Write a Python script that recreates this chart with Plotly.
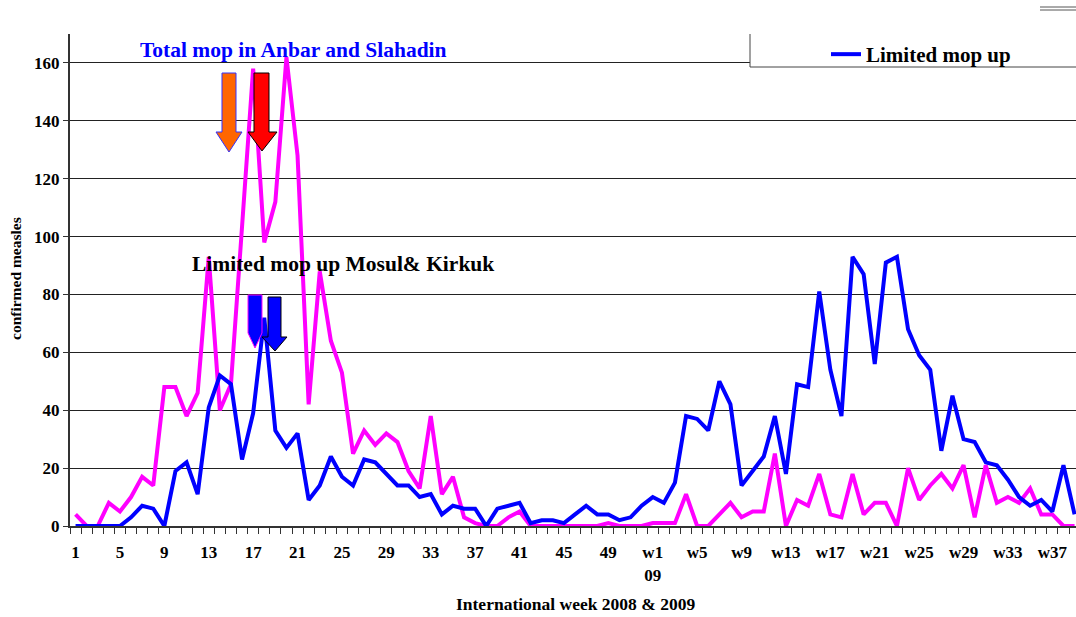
import plotly.graph_objects as go

# ---------------- data ----------------
categories = [str(w) for w in range(1, 53)] + [f"w{w}" for w in range(1, 40)]

total_mop = [4, 0, 0, 8, 5, 10, 17, 14, 48, 48, 38, 46, 93, 40, 49, 105, 158, 98, 112, 162,
             128, 42, 88, 64, 53, 25, 33, 28, 32, 29, 19, 13, 38, 11, 17, 3, 1, 0, 0, 3,
             5, 0, 0, 0, 0, 0, 0, 0, 1, 0, 0, 0, 1, 1, 1, 11, 0, 0, 4, 8,
             3, 5, 5, 25, 0, 9, 7, 18, 4, 3, 18, 4, 8, 8, 0, 20, 9, 14, 18, 13,
             21, 3, 21, 8, 10, 8, 13, 4, 4, 0, 0]

limited_mop = [0, 0, 0, 0, 0, 3, 7, 6, 0, 19, 22, 11, 41, 52, 49, 23, 39, 72, 33, 27,
               32, 9, 14, 24, 17, 14, 23, 22, 18, 14, 14, 10, 11, 4, 7, 6, 6, 0, 6, 7,
               8, 1, 2, 2, 1, 4, 7, 4, 4, 2, 3, 7, 10, 8, 15, 38, 37, 33, 50, 42,
               14, 19, 24, 38, 18, 49, 48, 81, 54, 38, 93, 87, 56, 91, 93, 68, 59, 54, 26, 45,
               30, 29, 22, 21, 16, 10, 7, 9, 5, 21, 4]

label_every = 4
y_ticks = [0, 20, 40, 60, 80, 100, 120, 140, 160]

# ---------------- layout constants ----------------
W, H = 1076, 617
ML, MR, MT, MB = 70, 0, 34, 91
PW, PH = W - ML - MR, H - MT - MB
STEP = 11.1  # px per week
x_pos = list(range(1, len(categories) + 1))
x_range = [0.5, 0.5 + PW / STEP]
y_range = [0, 170]

tickvals = x_pos[::label_every]
ticktext = []
for c in categories[::label_every]:
    ticktext.append(c + "<br>09" if c == "w1" else c)

SERIF = "Liberation Serif, Times New Roman, serif"


def px(xp, yp):
    """pixel -> paper coordinates"""
    return (xp - ML) / PW, (H - MB - yp) / PH


def path(points):
    pts = [px(a, b) for a, b in points]
    return "M " + " L ".join(f"{a:.5f},{b:.5f}" for a, b in pts) + " Z"


def pline(x0, y0, x1, y1, color="#444444", width=1):
    a0, b0 = px(x0, y0)
    a1, b1 = px(x1, y1)
    return dict(type="line", xref="paper", yref="paper", x0=a0, y0=b0, x1=a1, y1=b1,
                line=dict(color=color, width=width), layer="above")


fig = go.Figure()
fig.add_trace(go.Scatter(x=x_pos, y=total_mop, mode="lines", name="Total mop up",
                         line=dict(color="#FF00FF", width=4), showlegend=False,
                         text=categories))
fig.add_trace(go.Scatter(x=x_pos, y=limited_mop, mode="lines", name="Limited mop up",
                         line=dict(color="#0000FF", width=4), showlegend=True,
                         text=categories))

shapes = []
# legend box (partially cropped): white fill, left and bottom borders only
shapes.append(dict(type="rect", xref="paper", yref="paper",
                   x0=px(750, 0)[0], x1=1.05, y0=px(0, 67)[1], y1=px(0, 34)[1],
                   fillcolor="white", line=dict(width=0), layer="above"))
shapes.append(pline(750, 34, 750, 67))
shapes.append(pline(750, 67, 1080, 67))
# double line top right
shapes.append(pline(1040, 7, 1080, 7, "#555555"))
shapes.append(pline(1040, 10, 1080, 10, "#555555"))
# arrows
arrows = [
    ([(222, 73), (236, 73), (236, 132), (242, 132), (229, 152), (216, 132), (222, 132)], "#FF6600", "#3333FF"),
    ([(254, 73), (269, 73), (269, 132), (277, 132), (262, 151), (248, 132), (254, 132)], "#FF0000", "#000000"),
    ([(248, 295), (262, 295), (262, 333), (255, 348), (248, 333)], "#0000FF", "#FF00FF"),
    ([(268, 297), (281, 297), (281, 337), (287, 337), (275, 351), (262, 337), (268, 337)], "#0000FF", "#000000"),
]
for pts, fill, lc in arrows:
    shapes.append(dict(type="path", xref="paper", yref="paper", path=path(pts),
                       fillcolor=fill, line=dict(color=lc, width=1), layer="above"))

annotations = [
    dict(text="<b>Total mop in Anbar and Slahadin</b>", xref="paper", yref="paper",
         x=px(293, 0)[0], y=px(0, 50)[1], showarrow=False, xanchor="center", yanchor="middle",
         font=dict(family=SERIF, size=21.5, color="#0000FF")),
    dict(text="<b>Limited mop up Mosul& Kirkuk</b>", xref="paper", yref="paper",
         x=px(343, 0)[0], y=px(0, 264)[1], showarrow=False, xanchor="center", yanchor="middle",
         font=dict(family=SERIF, size=21.5, color="#000000")),
    dict(text="<b>confirmed measles</b>", xref="paper", yref="paper",
         x=px(15, 0)[0], y=px(0, 279)[1], showarrow=False, textangle=-90,
         xanchor="center", yanchor="middle",
         font=dict(family=SERIF, size=15.5, color="#000000")),
    dict(text="<b>International week 2008 & 2009</b>", xref="paper", yref="paper",
         x=px(575, 0)[0], y=px(0, 604)[1], showarrow=False, xanchor="center", yanchor="middle",
         font=dict(family=SERIF, size=17.5, color="#000000")),
]

fig.update_layout(
    width=W, height=H,
    margin=dict(l=ML, r=MR, t=MT, b=MB, pad=0),
    paper_bgcolor="white", plot_bgcolor="white",
    font=dict(family=SERIF, color="#000000"),
    shapes=shapes, annotations=annotations,
    legend=dict(x=px(826, 0)[0], y=px(0, 34)[1], xanchor="left", yanchor="top",
                bgcolor="rgba(0,0,0,0)", borderwidth=0,
                font=dict(family=SERIF, size=21, color="#000000", weight="bold"),
                itemwidth=30),
    xaxis=dict(range=x_range, tickmode="array", tickvals=tickvals, ticktext=ticktext,
               ticks="", showgrid=False, zeroline=False,
               showline=True, linecolor="#333333", linewidth=2,
               tickfont=dict(family=SERIF, size=17, color="#000000", weight="bold"),
               ticklabelstandoff=10,
               minor=dict(tickmode="linear", tick0=0.5, dtick=1, ticks="outside",
                          ticklen=6, tickcolor="#333333", tickwidth=1, showgrid=False)),
    yaxis=dict(range=y_range, tickmode="array", tickvals=y_ticks,
               ticks="outside", ticklen=5, tickcolor="#333333",
               showgrid=True, gridcolor="#222222", gridwidth=1, zeroline=False,
               showline=True, linecolor="#333333", linewidth=2,
               tickfont=dict(family=SERIF, size=17, color="#000000", weight="bold")),
)

fig.write_html("out.html", config={"displayModeBar": False},
               post_script="document.body.style.margin='0';document.body.style.overflow='hidden';"
                           "document.documentElement.style.overflow='hidden';")
